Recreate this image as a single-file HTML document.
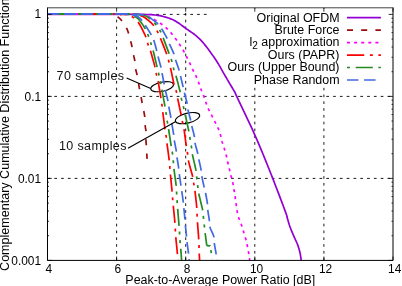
<!DOCTYPE html>
<html><head><meta charset="utf-8"><title>CCDF</title>
<style>
html,body{margin:0;padding:0;background:#fff;}
body{width:402px;height:286px;overflow:hidden;position:relative;font-family:"Liberation Sans",sans-serif;}
.t{font-family:"Liberation Sans",sans-serif;font-size:12.45px;fill:#000;}
.k{font-family:"Liberation Sans",sans-serif;font-size:11.9px;fill:#000;}
.s{font-family:"Liberation Sans",sans-serif;font-size:12.5px;letter-spacing:0.4px;fill:#111;}
</style></head><body>
<svg width="402" height="286" viewBox="0 0 402 286" style="position:absolute;left:0;top:0;will-change:transform">
<rect x="0" y="0" width="402" height="286" fill="#fff"/>
<path d="M116.60,260.4 L116.60,7.8" stroke="#000" stroke-width="0.9" stroke-dasharray="2.7 4.1" fill="none"/>
<path d="M185.70,260.4 L185.70,7.8" stroke="#000" stroke-width="0.9" stroke-dasharray="2.7 4.1" fill="none"/>
<path d="M254.80,260.4 L254.80,7.8" stroke="#000" stroke-width="0.9" stroke-dasharray="2.7 4.1" fill="none"/>
<path d="M323.90,260.4 L323.90,7.8" stroke="#000" stroke-width="0.9" stroke-dasharray="2.7 4.1" fill="none"/>
<path d="M47.5,14.40 L393.0,14.40" stroke="#000" stroke-width="0.9" stroke-dasharray="2.7 4.1" fill="none"/>
<path d="M47.5,96.40 L393.0,96.40" stroke="#000" stroke-width="0.9" stroke-dasharray="2.7 4.1" fill="none"/>
<path d="M47.5,178.40 L393.0,178.40" stroke="#000" stroke-width="0.9" stroke-dasharray="2.7 4.1" fill="none"/>
<rect x="207" y="9" width="183.5" height="78.5" fill="#fff"/>

<ellipse cx="162.1" cy="86.7" rx="11.6" ry="4.6" transform="rotate(-12 162.1 86.7)" fill="none" stroke="#000" stroke-width="1.1"/>
<ellipse cx="187.5" cy="118.1" rx="12.5" ry="4.9" transform="rotate(-14 187.5 118.1)" fill="none" stroke="#000" stroke-width="1.1"/>

<path d="M47.5,15.5 L127.6,15.5" stroke="#f3c6ea" stroke-width="1" fill="none" stroke-dasharray="none" stroke-dashoffset="0" stroke-linejoin="round" shape-rendering="crispEdges"/>
<path d="M128.00,14.30 L128.73,14.30 L129.70,14.29 L130.88,14.29 L132.19,14.29 L133.58,14.29 L135.00,14.30 L136.46,14.31 L138.01,14.33 L139.65,14.35 L141.36,14.38 L143.15,14.43 L145.00,14.50 L146.95,14.57 L149.01,14.63 L151.14,14.71 L153.30,14.83 L155.47,15.02 L157.60,15.30 L159.76,15.70 L161.99,16.19 L164.22,16.76 L166.38,17.36 L168.40,17.99 L170.20,18.60 L171.74,19.20 L173.07,19.80 L174.26,20.41 L175.38,21.06 L176.50,21.75 L177.70,22.50 L178.94,23.31 L180.15,24.16 L181.36,25.06 L182.61,26.00 L183.91,26.98 L185.30,28.00 L186.83,29.08 L188.50,30.24 L190.23,31.43 L191.94,32.63 L193.56,33.80 L195.00,34.90 L196.25,35.91 L197.35,36.85 L198.36,37.76 L199.33,38.67 L200.29,39.64 L201.30,40.70 L202.35,41.85 L203.40,43.06 L204.45,44.31 L205.50,45.61 L206.55,46.94 L207.60,48.30 L208.66,49.70 L209.73,51.16 L210.80,52.64 L211.86,54.14 L212.90,55.64 L213.90,57.10 L214.89,58.57 L215.88,60.06 L216.84,61.54 L217.77,62.98 L218.63,64.34 L219.40,65.60 L220.03,66.67 L220.52,67.55 L220.95,68.36 L221.39,69.20 L221.91,70.18 L222.60,71.40 L223.47,72.91 L224.47,74.63 L225.56,76.49 L226.69,78.42 L227.81,80.35 L228.90,82.20 L230.01,84.07 L231.18,86.05 L232.36,88.02 L233.46,89.89 L234.43,91.55 L235.20,92.90 L235.52,93.46 L235.40,93.22 L235.14,92.78 L235.06,92.72 L235.44,93.66 L236.60,96.20 L238.72,100.67 L241.59,106.65 L244.93,113.63 L248.46,121.08 L251.91,128.48 L255.00,135.30 L257.75,141.60 L260.39,147.81 L262.94,153.96 L265.44,160.10 L267.91,166.27 L270.40,172.50 L273.02,179.15 L275.78,186.27 L278.52,193.41 L281.07,200.14 L283.29,206.02 L285.00,210.60 L286.09,213.60 L286.67,215.32 L286.91,216.18 L286.98,216.63 L287.05,217.09 L287.30,218.00 L287.68,219.28 L288.03,220.55 L288.39,221.84 L288.78,223.17 L289.21,224.55 L289.70,226.00 L290.27,227.55 L290.91,229.19 L291.60,230.89 L292.31,232.60 L293.01,234.28 L293.70,235.90 L294.39,237.46 L295.10,239.01 L295.81,240.53 L296.49,242.01 L297.13,243.47 L297.70,244.90 L298.19,246.29 L298.63,247.63 L299.02,248.95 L299.38,250.24 L299.70,251.53 L300.00,252.80 L300.28,254.15 L300.53,255.58 L300.74,256.99 L300.93,258.30 L301.08,259.40 L301.20,260.20" stroke="#9400d3" stroke-width="1.7" fill="none" stroke-dasharray="none" stroke-dashoffset="0" stroke-linejoin="round"/>
<path d="M112.00,14.30 L112.08,14.29 L112.17,14.28 L112.28,14.27 L112.44,14.26 L112.68,14.27 L113.00,14.30 L113.47,14.34 L114.07,14.38 L114.74,14.44 L115.42,14.52 L116.03,14.64 L116.50,14.80 L116.79,15.00 L116.94,15.23 L117.03,15.50 L117.12,15.81 L117.29,16.18 L117.60,16.60 L118.07,17.07 L118.63,17.56 L119.27,18.11 L119.96,18.74 L120.68,19.46 L121.40,20.30 L122.17,21.32 L123.03,22.52 L123.91,23.81 L124.76,25.13 L125.54,26.38 L126.20,27.50 L126.70,28.43 L127.09,29.22 L127.40,29.96 L127.68,30.71 L127.96,31.57 L128.30,32.60 L128.70,33.88 L129.12,35.37 L129.56,36.96 L129.98,38.54 L130.37,40.02 L130.70,41.30 L130.96,42.30 L131.17,43.10 L131.34,43.79 L131.51,44.49 L131.68,45.29 L131.90,46.30 L132.16,47.58 L132.45,49.07 L132.75,50.66 L133.05,52.26 L133.34,53.77 L133.60,55.10 L133.83,56.20 L134.05,57.13 L134.25,57.98 L134.44,58.81 L134.62,59.73 L134.80,60.80 L134.96,62.08 L135.11,63.51 L135.24,65.02 L135.38,66.52 L135.53,67.94 L135.70,69.20 L135.89,70.24 L136.09,71.10 L136.31,71.88 L136.53,72.67 L136.76,73.54 L137.00,74.60 L137.26,75.90 L137.54,77.39 L137.83,78.97 L138.11,80.54 L138.38,82.02 L138.60,83.30 L138.77,84.32 L138.89,85.13 L138.99,85.84 L139.10,86.56 L139.22,87.38 L139.40,88.40 L139.64,89.70 L139.93,91.20 L140.24,92.81 L140.56,94.41 L140.85,95.91 L141.10,97.20 L141.28,98.19 L141.41,98.94 L141.53,99.59 L141.64,100.26 L141.79,101.09 L142.00,102.20 L142.30,103.71 L142.66,105.52 L143.06,107.49 L143.46,109.47 L143.82,111.29 L144.10,112.80 L144.30,113.93 L144.44,114.77 L144.55,115.46 L144.63,116.13 L144.71,116.90 L144.80,117.90 L144.89,119.20 L144.97,120.70 L145.04,122.31 L145.12,123.91 L145.20,125.41 L145.30,126.70 L145.43,127.73 L145.58,128.57 L145.74,129.31 L145.90,130.02 L146.02,130.79 L146.10,131.70 L146.12,132.77 L146.09,133.94 L146.03,135.17 L145.96,136.41 L145.91,137.64 L145.90,138.80 L145.93,139.88 L145.99,140.91 L146.06,141.93 L146.14,142.94 L146.23,143.99 L146.30,145.10 L146.37,146.29 L146.43,147.56 L146.50,148.85 L146.57,150.14 L146.63,151.41 L146.70,152.60 L146.77,153.79 L146.85,155.02 L146.92,156.22 L147.00,157.31 L147.06,158.23 L147.10,158.90" stroke="#9a0c0c" stroke-width="1.7" fill="none" stroke-dasharray="6 8.2" stroke-dashoffset="7.36" stroke-linejoin="round"/>
<path d="M134.00,14.30 L134.63,14.27 L135.48,14.22 L136.50,14.16 L137.63,14.14 L138.81,14.17 L140.00,14.30 L141.24,14.53 L142.58,14.84 L143.97,15.21 L145.38,15.62 L146.74,16.06 L148.00,16.50 L149.17,16.96 L150.28,17.45 L151.34,17.97 L152.38,18.50 L153.39,19.05 L154.40,19.60 L155.39,20.15 L156.35,20.70 L157.29,21.27 L158.23,21.85 L159.16,22.46 L160.10,23.10 L161.06,23.77 L162.03,24.47 L162.99,25.20 L163.95,25.95 L164.89,26.72 L165.80,27.50 L166.68,28.30 L167.54,29.13 L168.38,29.98 L169.20,30.84 L170.01,31.71 L170.80,32.60 L171.58,33.51 L172.33,34.44 L173.07,35.38 L173.80,36.33 L174.51,37.27 L175.20,38.20 L175.87,39.10 L176.51,39.99 L177.13,40.86 L177.75,41.75 L178.37,42.66 L179.00,43.60 L179.65,44.58 L180.31,45.59 L180.97,46.62 L181.63,47.67 L182.27,48.73 L182.90,49.80 L183.51,50.88 L184.11,51.98 L184.69,53.09 L185.27,54.21 L185.84,55.31 L186.40,56.40 L186.95,57.47 L187.50,58.51 L188.04,59.56 L188.57,60.60 L189.09,61.64 L189.60,62.70 L190.10,63.78 L190.59,64.88 L191.06,65.98 L191.54,67.08 L192.01,68.15 L192.50,69.20 L192.99,70.19 L193.49,71.14 L193.99,72.06 L194.50,73.00 L195.00,73.97 L195.50,75.00 L196.01,76.12 L196.53,77.30 L197.06,78.52 L197.57,79.74 L198.05,80.95 L198.50,82.10 L198.89,83.19 L199.23,84.23 L199.55,85.24 L199.87,86.26 L200.21,87.31 L200.60,88.40 L201.06,89.55 L201.56,90.76 L202.09,91.98 L202.63,93.21 L203.14,94.42 L203.60,95.60 L204.01,96.73 L204.37,97.83 L204.72,98.92 L205.06,100.00 L205.41,101.09 L205.80,102.20 L206.22,103.34 L206.65,104.51 L207.09,105.68 L207.55,106.85 L208.02,107.99 L208.50,109.10 L208.99,110.16 L209.50,111.19 L210.02,112.19 L210.55,113.19 L211.08,114.19 L211.60,115.20 L212.12,116.23 L212.63,117.26 L213.15,118.30 L213.67,119.34 L214.18,120.37 L214.70,121.40 L215.22,122.41 L215.75,123.41 L216.28,124.40 L216.80,125.40 L217.31,126.43 L217.80,127.50 L218.27,128.62 L218.74,129.77 L219.19,130.95 L219.63,132.14 L220.03,133.33 L220.40,134.50 L220.72,135.66 L220.99,136.81 L221.22,137.96 L221.46,139.10 L221.71,140.25 L222.00,141.40 L222.33,142.55 L222.70,143.70 L223.07,144.85 L223.46,146.00 L223.84,147.15 L224.20,148.30 L224.55,149.45 L224.90,150.60 L225.24,151.74 L225.58,152.89 L225.90,154.04 L226.20,155.20 L226.48,156.37 L226.74,157.56 L226.98,158.75 L227.22,159.93 L227.46,161.08 L227.70,162.20 L227.95,163.26 L228.20,164.27 L228.44,165.26 L228.69,166.24 L228.94,167.25 L229.20,168.30 L229.46,169.40 L229.71,170.54 L229.97,171.69 L230.24,172.86 L230.51,174.03 L230.80,175.20 L231.11,176.36 L231.44,177.53 L231.78,178.70 L232.11,179.87 L232.42,181.04 L232.70,182.20 L232.94,183.36 L233.16,184.51 L233.35,185.66 L233.53,186.80 L233.71,187.95 L233.90,189.10 L234.09,190.24 L234.27,191.37 L234.46,192.50 L234.64,193.64 L234.82,194.80 L235.00,196.00 L235.19,197.25 L235.37,198.54 L235.56,199.85 L235.75,201.16 L235.93,202.45 L236.10,203.70 L236.25,204.89 L236.39,206.05 L236.51,207.19 L236.65,208.31 L236.81,209.45 L237.00,210.60 L237.22,211.77 L237.47,212.94 L237.73,214.12 L238.02,215.31 L238.34,216.50 L238.70,217.70 L239.11,218.90 L239.57,220.10 L240.06,221.30 L240.56,222.51 L241.04,223.75 L241.50,225.00 L241.92,226.28 L242.33,227.59 L242.73,228.91 L243.11,230.24 L243.50,231.57 L243.90,232.90 L244.31,234.23 L244.73,235.56 L245.15,236.90 L245.56,238.24 L245.95,239.57 L246.30,240.90 L246.62,242.22 L246.90,243.54 L247.16,244.85 L247.41,246.16 L247.65,247.48 L247.90,248.80 L248.16,250.18 L248.42,251.63 L248.68,253.08 L248.92,254.47 L249.13,255.73 L249.30,256.80 L249.42,257.67 L249.49,258.40 L249.54,259.00 L249.56,259.49 L249.58,259.88 L249.60,260.20" stroke="#ff00ff" stroke-width="1.7" fill="none" stroke-dasharray="3 4.1" stroke-dashoffset="0.37" stroke-linejoin="round"/>
<path d="M120.00,14.30 L120.44,14.29 L121.04,14.27 L121.75,14.26 L122.52,14.25 L123.29,14.26 L124.00,14.30 L124.67,14.37 L125.33,14.45 L125.99,14.55 L126.66,14.67 L127.33,14.82 L128.00,15.00 L128.65,15.16 L129.28,15.31 L129.91,15.47 L130.57,15.71 L131.29,16.07 L132.10,16.60 L133.01,17.23 L133.99,17.93 L135.04,18.74 L136.13,19.74 L137.26,20.97 L138.40,22.50 L139.64,24.50 L141.01,26.96 L142.41,29.66 L143.76,32.37 L144.95,34.89 L145.90,37.00 L146.56,38.65 L146.98,40.01 L147.26,41.18 L147.46,42.23 L147.68,43.28 L148.00,44.40 L148.38,45.48 L148.76,46.41 L149.16,47.32 L149.58,48.36 L150.06,49.64 L150.60,51.30 L151.26,53.52 L152.04,56.23 L152.87,59.18 L153.69,62.14 L154.42,64.86 L155.00,67.10 L155.40,68.81 L155.68,70.16 L155.87,71.28 L156.03,72.27 L156.19,73.24 L156.40,74.30 L156.64,75.30 L156.87,76.13 L157.11,76.94 L157.36,77.88 L157.66,79.12 L158.00,80.80 L158.43,83.14 L158.94,86.04 L159.48,89.24 L160.02,92.46 L160.51,95.40 L160.90,97.80 L161.19,99.59 L161.41,100.99 L161.58,102.13 L161.72,103.12 L161.85,104.10 L162.00,105.20 L162.14,106.29 L162.24,107.24 L162.34,108.18 L162.46,109.24 L162.60,110.53 L162.80,112.20 L163.07,114.40 L163.40,117.07 L163.77,119.98 L164.14,122.91 L164.49,125.62 L164.80,127.90 L165.06,129.70 L165.30,131.18 L165.52,132.46 L165.72,133.62 L165.91,134.77 L166.10,136.00 L166.26,137.20 L166.39,138.27 L166.50,139.33 L166.63,140.49 L166.79,141.87 L167.00,143.60 L167.30,145.84 L167.66,148.53 L168.06,151.45 L168.46,154.37 L168.82,157.06 L169.10,159.30 L169.30,161.04 L169.44,162.44 L169.54,163.62 L169.63,164.68 L169.71,165.74 L169.80,166.90 L169.89,168.04 L169.97,169.05 L170.04,170.05 L170.13,171.17 L170.24,172.55 L170.40,174.30 L170.62,176.62 L170.90,179.43 L171.20,182.49 L171.50,185.56 L171.78,188.38 L172.00,190.70 L172.16,192.47 L172.27,193.89 L172.36,195.05 L172.44,196.08 L172.51,197.09 L172.60,198.20 L172.69,199.26 L172.76,200.16 L172.84,201.04 L172.93,202.05 L173.04,203.32 L173.20,205.00 L173.42,207.28 L173.70,210.07 L174.01,213.14 L174.31,216.21 L174.59,219.05 L174.80,221.40 L174.95,223.21 L175.05,224.67 L175.13,225.89 L175.18,226.98 L175.24,228.05 L175.30,229.20 L175.36,230.30 L175.40,231.24 L175.43,232.16 L175.48,233.20 L175.57,234.50 L175.70,236.20 L175.91,238.49 L176.18,241.30 L176.49,244.36 L176.80,247.44 L177.08,250.27 L177.30,252.60 L177.46,254.46 L177.60,256.07 L177.70,257.43 L177.78,258.56 L177.85,259.48 L177.90,260.20" stroke="#ff0000" stroke-width="1.7" fill="none" stroke-dasharray="17.2 5.7 2.9 5.6" stroke-dashoffset="10.76" stroke-linejoin="round"/>
<path d="M120.00,14.30 L121.50,14.29 L123.63,14.27 L126.12,14.24 L128.70,14.23 L131.09,14.25 L133.00,14.30 L134.41,14.38 L135.52,14.47 L136.44,14.59 L137.26,14.74 L138.08,14.94 L139.00,15.20 L139.97,15.48 L140.90,15.76 L141.84,16.09 L142.81,16.51 L143.85,17.06 L145.00,17.80 L146.34,18.78 L147.84,19.97 L149.43,21.30 L150.98,22.69 L152.40,24.05 L153.60,25.30 L154.54,26.45 L155.31,27.55 L155.94,28.63 L156.50,29.70 L157.04,30.79 L157.60,31.90 L158.14,32.95 L158.60,33.91 L159.03,34.88 L159.49,35.96 L160.03,37.27 L160.70,38.90 L161.56,41.02 L162.60,43.59 L163.71,46.37 L164.80,49.16 L165.80,51.74 L166.60,53.90 L167.19,55.59 L167.62,56.98 L167.96,58.16 L168.23,59.22 L168.50,60.27 L168.80,61.40 L169.10,62.48 L169.37,63.40 L169.62,64.30 L169.89,65.33 L170.21,66.61 L170.60,68.30 L171.10,70.58 L171.69,73.39 L172.32,76.45 L172.97,79.51 L173.57,82.32 L174.10,84.60 L174.55,86.29 L174.96,87.57 L175.33,88.59 L175.67,89.50 L175.99,90.42 L176.30,91.50 L176.57,92.63 L176.78,93.66 L176.98,94.72 L177.19,95.90 L177.45,97.33 L177.80,99.10 L178.28,101.41 L178.87,104.20 L179.51,107.24 L180.15,110.26 L180.73,113.03 L181.20,115.30 L181.54,117.00 L181.78,118.32 L181.97,119.38 L182.13,120.31 L182.30,121.25 L182.50,122.30 L182.73,123.35 L182.96,124.26 L183.19,125.17 L183.44,126.21 L183.71,127.51 L184.00,129.20 L184.34,131.46 L184.71,134.23 L185.11,137.26 L185.51,140.29 L185.88,143.09 L186.20,145.40 L186.47,147.16 L186.71,148.57 L186.93,149.74 L187.13,150.79 L187.32,151.83 L187.50,153.00 L187.63,154.17 L187.70,155.21 L187.76,156.26 L187.86,157.43 L188.06,158.84 L188.40,160.60 L188.96,162.91 L189.70,165.71 L190.54,168.74 L191.38,171.77 L192.13,174.54 L192.70,176.80 L193.07,178.48 L193.30,179.76 L193.44,180.79 L193.54,181.69 L193.65,182.62 L193.80,183.70 L193.99,184.83 L194.17,185.89 L194.36,186.96 L194.56,188.15 L194.77,189.56 L195.00,191.30 L195.27,193.53 L195.58,196.19 L195.90,199.08 L196.21,201.97 L196.49,204.65 L196.70,206.90 L196.84,208.68 L196.93,210.15 L196.98,211.41 L197.01,212.55 L197.05,213.68 L197.10,214.90 L197.16,216.08 L197.20,217.11 L197.25,218.13 L197.31,219.27 L197.39,220.65 L197.50,222.40 L197.66,224.72 L197.87,227.53 L198.11,230.59 L198.34,233.64 L198.54,236.43 L198.70,238.70 L198.80,240.39 L198.87,241.67 L198.91,242.69 L198.94,243.60 L198.97,244.52 L199.00,245.60 L199.04,246.83 L199.07,248.10 L199.09,249.39 L199.12,250.69 L199.16,251.96 L199.20,253.20 L199.26,254.48 L199.33,255.84 L199.41,257.18 L199.49,258.41 L199.55,259.45 L199.60,260.20" stroke="#ff0000" stroke-width="1.7" fill="none" stroke-dasharray="17.2 5.7 2.9 5.6" stroke-dashoffset="11.02" stroke-linejoin="round"/>
<path d="M120.00,14.30 L120.66,14.29 L121.59,14.27 L122.69,14.26 L123.85,14.25 L124.99,14.26 L126.00,14.30 L126.87,14.34 L127.67,14.37 L128.44,14.42 L129.22,14.52 L130.06,14.70 L131.00,15.00 L132.05,15.37 L133.17,15.77 L134.36,16.26 L135.57,16.88 L136.79,17.68 L138.00,18.70 L139.25,20.04 L140.56,21.69 L141.89,23.51 L143.16,25.39 L144.32,27.19 L145.30,28.80 L146.08,30.19 L146.69,31.47 L147.19,32.68 L147.62,33.85 L148.04,35.05 L148.50,36.30 L148.99,37.63 L149.46,39.00 L149.92,40.39 L150.36,41.77 L150.79,43.11 L151.20,44.40 L151.57,45.52 L151.88,46.46 L152.18,47.37 L152.50,48.39 L152.86,49.65 L153.30,51.30 L153.86,53.52 L154.52,56.23 L155.23,59.18 L155.93,62.14 L156.57,64.86 L157.10,67.10 L157.50,68.78 L157.82,70.08 L158.07,71.14 L158.30,72.10 L158.54,73.11 L158.80,74.30 L159.10,75.69 L159.40,77.15 L159.71,78.66 L160.02,80.18 L160.32,81.67 L160.60,83.10 L160.85,84.37 L161.07,85.48 L161.28,86.57 L161.51,87.75 L161.77,89.15 L162.10,90.90 L162.52,93.16 L163.03,95.88 L163.57,98.81 L164.11,101.73 L164.60,104.41 L165.00,106.60 L165.29,108.23 L165.50,109.47 L165.66,110.47 L165.79,111.36 L165.93,112.29 L166.10,113.40 L166.29,114.69 L166.49,116.05 L166.69,117.45 L166.89,118.86 L167.09,120.25 L167.30,121.60 L167.50,122.80 L167.68,123.86 L167.87,124.90 L168.07,126.05 L168.31,127.44 L168.60,129.20 L168.96,131.50 L169.39,134.28 L169.85,137.30 L170.31,140.32 L170.74,143.10 L171.10,145.40 L171.39,147.16 L171.64,148.55 L171.85,149.70 L172.04,150.74 L172.22,151.80 L172.40,153.00 L172.58,154.34 L172.74,155.72 L172.89,157.11 L173.04,158.50 L173.17,159.87 L173.30,161.20 L173.40,162.38 L173.46,163.39 L173.52,164.39 L173.59,165.50 L173.71,166.86 L173.90,168.60 L174.19,170.91 L174.58,173.73 L175.01,176.79 L175.43,179.85 L175.81,182.67 L176.10,185.00 L176.28,186.77 L176.39,188.17 L176.46,189.32 L176.50,190.36 L176.54,191.41 L176.60,192.60 L176.68,193.93 L176.77,195.29 L176.85,196.66 L176.93,198.03 L177.02,199.38 L177.10,200.70 L177.17,201.89 L177.24,202.94 L177.30,203.97 L177.37,205.11 L177.47,206.48 L177.60,208.20 L177.78,210.43 L178.00,213.10 L178.24,216.01 L178.49,218.92 L178.71,221.62 L178.90,223.90 L179.04,225.70 L179.16,227.20 L179.26,228.49 L179.34,229.67 L179.42,230.84 L179.50,232.10 L179.57,233.43 L179.63,234.74 L179.69,236.05 L179.74,237.36 L179.81,238.67 L179.90,240.00 L180.01,241.31 L180.13,242.57 L180.27,243.84 L180.41,245.17 L180.56,246.61 L180.70,248.20 L180.85,250.12 L181.03,252.36 L181.20,254.71 L181.36,256.95 L181.50,258.85 L181.60,260.20" stroke="#228b22" stroke-width="1.7" fill="none" stroke-dasharray="17.1 5.6 3 5.7 3 5.7" stroke-dashoffset="25.49" stroke-linejoin="round"/>
<path d="M120.00,14.30 L121.74,14.29 L124.22,14.27 L127.12,14.26 L130.11,14.25 L132.85,14.26 L135.00,14.30 L136.52,14.36 L137.65,14.44 L138.53,14.53 L139.30,14.65 L140.08,14.81 L141.00,15.00 L142.03,15.18 L143.04,15.31 L144.08,15.49 L145.14,15.76 L146.28,16.21 L147.50,16.90 L148.88,17.91 L150.43,19.19 L152.03,20.64 L153.61,22.16 L155.06,23.65 L156.30,25.00 L157.31,26.23 L158.16,27.41 L158.89,28.56 L159.53,29.69 L160.12,30.80 L160.70,31.90 L161.20,32.87 L161.57,33.69 L161.90,34.49 L162.25,35.41 L162.69,36.60 L163.30,38.20 L164.14,40.39 L165.17,43.11 L166.30,46.09 L167.43,49.08 L168.46,51.84 L169.30,54.10 L169.94,55.81 L170.44,57.15 L170.86,58.25 L171.21,59.24 L171.55,60.25 L171.90,61.40 L172.25,62.68 L172.56,64.00 L172.86,65.33 L173.15,66.66 L173.46,67.99 L173.80,69.30 L174.17,70.51 L174.54,71.60 L174.93,72.69 L175.34,73.89 L175.80,75.28 L176.30,77.00 L176.90,79.18 L177.59,81.79 L178.31,84.59 L179.03,87.40 L179.67,90.01 L180.20,92.20 L180.58,93.93 L180.86,95.34 L181.07,96.55 L181.25,97.66 L181.45,98.77 L181.70,100.00 L182.01,101.34 L182.35,102.70 L182.70,104.07 L183.05,105.42 L183.39,106.74 L183.70,108.00 L183.95,109.08 L184.16,109.97 L184.35,110.83 L184.56,111.80 L184.83,113.04 L185.20,114.70 L185.71,116.98 L186.33,119.79 L187.02,122.87 L187.70,125.96 L188.31,128.79 L188.80,131.10 L189.14,132.81 L189.37,134.11 L189.53,135.16 L189.67,136.11 L189.81,137.10 L190.00,138.30 L190.24,139.71 L190.50,141.22 L190.76,142.78 L191.03,144.34 L191.28,145.86 L191.50,147.30 L191.67,148.56 L191.78,149.66 L191.88,150.72 L192.01,151.86 L192.20,153.22 L192.50,154.90 L192.96,157.06 L193.55,159.64 L194.21,162.42 L194.86,165.21 L195.45,167.80 L195.90,170.00 L196.19,171.75 L196.38,173.20 L196.50,174.46 L196.59,175.63 L196.67,176.81 L196.80,178.10 L196.96,179.51 L197.13,180.95 L197.29,182.41 L197.46,183.85 L197.63,185.25 L197.80,186.60 L197.94,187.78 L198.03,188.79 L198.13,189.76 L198.27,190.83 L198.48,192.13 L198.80,193.80 L199.29,196.01 L199.94,198.67 L200.66,201.58 L201.37,204.48 L202.01,207.17 L202.50,209.40 L202.81,211.12 L203.01,212.48 L203.12,213.62 L203.20,214.67 L203.28,215.76 L203.40,217.00 L203.55,218.42 L203.70,219.91 L203.86,221.44 L204.01,222.96 L204.16,224.43 L204.30,225.80 L204.43,226.99 L204.54,228.02 L204.65,228.99 L204.77,230.03 L204.92,231.22 L205.10,232.70 L205.35,234.65 L205.66,237.03 L206.00,239.58 L206.33,242.03 L206.60,244.13 L206.80,245.60" stroke="#228b22" stroke-width="1.7" fill="none" stroke-dasharray="17.1 5.6 3 5.7 3 5.7" stroke-dashoffset="25.77" stroke-linejoin="round"/>
<path d="M206.80,245.60 L210.00,245.90 L211.30,252.60 L212.40,259.00" stroke="#228b22" stroke-width="1.7" fill="none" stroke-dasharray="3.4 4.2 3 5.7 3 50" stroke-dashoffset="0" stroke-linejoin="round"/>
<path d="M47.5,14.0 L127.6,14.0" stroke="#4169e1" stroke-width="2" fill="none" stroke-dasharray="none" stroke-dashoffset="0" stroke-linejoin="round" shape-rendering="crispEdges"/>
<path d="M58.9,14.0 L63.9,14.0" stroke="#228b22" stroke-width="2" fill="none" stroke-dasharray="none" stroke-dashoffset="0" stroke-linejoin="round" shape-rendering="crispEdges"/>
<path d="M75.6,14.0 L77.9,14.0" stroke="#ff00ff" stroke-width="2" fill="none" stroke-dasharray="none" stroke-dashoffset="0" stroke-linejoin="round" shape-rendering="crispEdges"/>
<path d="M78.4,14.0 L81.1,14.0" stroke="#228b22" stroke-width="2" fill="none" stroke-dasharray="none" stroke-dashoffset="0" stroke-linejoin="round" shape-rendering="crispEdges"/>
<path d="M93.0,14.0 L95.6,14.0" stroke="#ff0000" stroke-width="2" fill="none" stroke-dasharray="none" stroke-dashoffset="0" stroke-linejoin="round" shape-rendering="crispEdges"/>
<path d="M96.0,14.0 L98.4,14.0" stroke="#228b22" stroke-width="2" fill="none" stroke-dasharray="none" stroke-dashoffset="0" stroke-linejoin="round" shape-rendering="crispEdges"/>
<path d="M109.8,14.0 L112.4,14.0" stroke="#228b22" stroke-width="2" fill="none" stroke-dasharray="none" stroke-dashoffset="0" stroke-linejoin="round" shape-rendering="crispEdges"/>
<path d="M112.8,14.0 L115.4,14.0" stroke="#ff0000" stroke-width="2" fill="none" stroke-dasharray="none" stroke-dashoffset="0" stroke-linejoin="round" shape-rendering="crispEdges"/>
<path d="M127.8,14.0 L130.0,14.0" stroke="#228b22" stroke-width="2" fill="none" stroke-dasharray="none" stroke-dashoffset="0" stroke-linejoin="round" shape-rendering="crispEdges"/>
<path d="M127.60,14.30 L127.47,14.29 L127.24,14.28 L126.99,14.26 L126.81,14.26 L126.78,14.27 L127.00,14.30 L127.51,14.36 L128.25,14.43 L129.14,14.52 L130.12,14.63 L131.10,14.75 L132.00,14.90 L132.85,15.05 L133.72,15.19 L134.59,15.35 L135.45,15.56 L136.29,15.83 L137.10,16.20 L137.87,16.66 L138.62,17.19 L139.34,17.79 L140.06,18.46 L140.77,19.19 L141.50,20.00 L142.23,20.88 L142.94,21.85 L143.66,22.88 L144.38,23.97 L145.13,25.12 L145.90,26.30 L146.74,27.57 L147.64,28.96 L148.56,30.39 L149.45,31.82 L150.28,33.17 L151.00,34.40 L151.59,35.42 L152.07,36.26 L152.48,37.04 L152.87,37.85 L153.26,38.80 L153.70,40.00 L154.20,41.55 L154.74,43.37 L155.29,45.34 L155.81,47.31 L156.29,49.15 L156.70,50.70 L157.00,51.88 L157.20,52.79 L157.36,53.55 L157.51,54.31 L157.71,55.22 L158.00,56.40 L158.41,57.95 L158.91,59.76 L159.46,61.72 L160.00,63.68 L160.50,65.52 L160.90,67.10 L161.19,68.35 L161.40,69.36 L161.56,70.24 L161.71,71.12 L161.88,72.10 L162.10,73.30 L162.38,74.77 L162.70,76.44 L163.03,78.21 L163.37,80.00 L163.70,81.73 L164.00,83.30 L164.26,84.68 L164.50,85.94 L164.72,87.14 L164.96,88.32 L165.21,89.56 L165.50,90.90 L165.85,92.39 L166.25,94.00 L166.67,95.65 L167.09,97.29 L167.48,98.86 L167.80,100.30 L168.04,101.55 L168.23,102.66 L168.38,103.69 L168.53,104.73 L168.69,105.84 L168.90,107.10 L169.17,108.56 L169.47,110.16 L169.80,111.84 L170.13,113.53 L170.43,115.14 L170.70,116.60 L170.92,117.86 L171.09,118.95 L171.25,119.97 L171.41,121.01 L171.58,122.16 L171.80,123.50 L172.07,125.12 L172.39,126.95 L172.73,128.89 L173.06,130.83 L173.36,132.63 L173.60,134.20 L173.77,135.45 L173.87,136.46 L173.94,137.34 L174.02,138.21 L174.13,139.19 L174.30,140.40 L174.56,141.89 L174.89,143.60 L175.24,145.41 L175.60,147.23 L175.93,148.96 L176.20,150.50 L176.39,151.80 L176.52,152.92 L176.62,153.95 L176.71,154.98 L176.83,156.10 L177.00,157.40 L177.23,158.94 L177.51,160.67 L177.81,162.49 L178.11,164.30 L178.38,166.01 L178.60,167.50 L178.75,168.71 L178.84,169.69 L178.90,170.56 L178.96,171.44 L179.05,172.45 L179.20,173.70 L179.42,175.27 L179.69,177.10 L179.98,179.04 L180.28,180.99 L180.56,182.82 L180.80,184.40 L180.98,185.65 L181.13,186.66 L181.26,187.55 L181.38,188.44 L181.52,189.45 L181.70,190.70 L181.93,192.28 L182.19,194.11 L182.47,196.06 L182.74,198.00 L183.00,199.83 L183.20,201.40 L183.35,202.63 L183.45,203.61 L183.52,204.46 L183.60,205.32 L183.68,206.32 L183.80,207.60 L183.96,209.25 L184.16,211.20 L184.36,213.28 L184.57,215.36 L184.75,217.28 L184.90,218.90 L185.00,220.12 L185.06,221.03 L185.10,221.79 L185.14,222.54 L185.20,223.43 L185.30,224.60 L185.45,226.14 L185.63,227.95 L185.84,229.89 L186.04,231.85 L186.24,233.70 L186.40,235.30 L186.52,236.60 L186.61,237.68 L186.69,238.64 L186.77,239.60 L186.87,240.65 L187.00,241.90 L187.18,243.41 L187.41,245.12 L187.65,246.92 L187.89,248.71 L188.12,250.41 L188.30,251.90 L188.45,253.21 L188.57,254.43 L188.67,255.55 L188.76,256.56 L188.83,257.44 L188.90,258.20 L188.96,258.81 L189.00,259.26 L189.04,259.59 L189.06,259.84 L189.08,260.03 L189.10,260.20" stroke="#4169e1" stroke-width="1.7" fill="none" stroke-dasharray="11.5 5.6" stroke-dashoffset="10.58" stroke-linejoin="round"/>
<path d="M127.60,14.30 L128.67,14.29 L130.20,14.28 L131.99,14.26 L133.84,14.26 L135.58,14.27 L137.00,14.30 L138.09,14.36 L139.01,14.43 L139.80,14.52 L140.53,14.63 L141.24,14.75 L142.00,14.90 L142.80,15.07 L143.61,15.27 L144.40,15.49 L145.17,15.72 L145.91,15.96 L146.60,16.20 L147.22,16.43 L147.76,16.63 L148.27,16.85 L148.79,17.10 L149.35,17.41 L150.00,17.80 L150.77,18.31 L151.64,18.93 L152.55,19.61 L153.45,20.30 L154.29,20.95 L155.00,21.50 L155.55,21.91 L155.98,22.21 L156.34,22.48 L156.69,22.76 L157.09,23.15 L157.60,23.70 L158.22,24.41 L158.91,25.23 L159.65,26.14 L160.42,27.14 L161.21,28.23 L162.00,29.40 L162.83,30.72 L163.72,32.22 L164.62,33.81 L165.50,35.39 L166.31,36.88 L167.00,38.20 L167.53,39.27 L167.91,40.14 L168.23,40.92 L168.54,41.72 L168.91,42.64 L169.40,43.80 L170.06,45.27 L170.84,46.97 L171.69,48.81 L172.52,50.65 L173.28,52.38 L173.90,53.90 L174.34,55.13 L174.64,56.14 L174.87,57.06 L175.08,57.97 L175.34,58.98 L175.70,60.20 L176.20,61.70 L176.79,63.40 L177.42,65.21 L178.05,67.01 L178.62,68.71 L179.10,70.20 L179.45,71.41 L179.71,72.40 L179.91,73.29 L180.10,74.19 L180.32,75.18 L180.60,76.40 L180.96,77.89 L181.36,79.60 L181.79,81.41 L182.23,83.23 L182.64,84.96 L183.00,86.50 L183.30,87.80 L183.56,88.92 L183.79,89.95 L184.03,90.98 L184.29,92.10 L184.60,93.40 L184.98,94.94 L185.43,96.67 L185.89,98.49 L186.35,100.30 L186.77,102.01 L187.10,103.50 L187.32,104.72 L187.46,105.71 L187.55,106.61 L187.64,107.50 L187.78,108.49 L188.00,109.70 L188.34,111.19 L188.76,112.89 L189.22,114.69 L189.70,116.50 L190.13,118.20 L190.50,119.70 L190.77,120.92 L190.98,121.93 L191.15,122.84 L191.32,123.76 L191.53,124.77 L191.80,126.00 L192.17,127.50 L192.61,129.21 L193.09,131.02 L193.56,132.84 L193.97,134.56 L194.30,136.10 L194.50,137.39 L194.60,138.49 L194.64,139.50 L194.69,140.51 L194.79,141.61 L195.00,142.90 L195.34,144.44 L195.78,146.16 L196.27,147.98 L196.77,149.79 L197.23,151.50 L197.60,153.00 L197.87,154.23 L198.07,155.24 L198.23,156.15 L198.38,157.06 L198.56,158.07 L198.80,159.30 L199.12,160.80 L199.51,162.51 L199.93,164.32 L200.33,166.14 L200.70,167.86 L201.00,169.40 L201.20,170.68 L201.31,171.77 L201.39,172.76 L201.47,173.77 L201.60,174.88 L201.80,176.20 L202.11,177.81 L202.49,179.64 L202.91,181.58 L203.34,183.51 L203.75,185.33 L204.10,186.90 L204.39,188.16 L204.65,189.18 L204.88,190.08 L205.11,190.97 L205.34,191.97 L205.60,193.20 L205.90,194.73 L206.23,196.47 L206.57,198.33 L206.89,200.19 L207.18,201.95 L207.40,203.50 L207.53,204.77 L207.60,205.84 L207.62,206.81 L207.64,207.78 L207.69,208.84 L207.80,210.10 L208.00,211.62 L208.26,213.34 L208.54,215.15 L208.83,216.96 L209.10,218.68 L209.30,220.20 L209.40,221.47 L209.41,222.55 L209.39,223.53 L209.41,224.51 L209.53,225.57 L209.80,226.80 L210.30,228.26 L211.00,229.89 L211.80,231.59 L212.60,233.30 L213.30,234.93 L213.80,236.40 L214.07,237.65 L214.18,238.72 L214.19,239.72 L214.17,240.72 L214.19,241.82 L214.30,243.10 L214.52,244.62 L214.80,246.33 L215.12,248.13 L215.44,249.94 L215.74,251.66 L216.00,253.20 L216.22,254.63 L216.42,256.02 L216.61,257.33 L216.77,258.50 L216.90,259.47 L217.00,260.20" stroke="#4169e1" stroke-width="1.7" fill="none" stroke-dasharray="11.5 5.6" stroke-dashoffset="12.4" stroke-linejoin="round"/>
<path d="M47.50,260.4 l0,-3.9 M47.50,7.8 l0,3.9" stroke="#000" stroke-width="0.8" fill="none"/>
<path d="M116.60,260.4 l0,-3.9 M116.60,7.8 l0,3.9" stroke="#000" stroke-width="0.8" fill="none"/>
<path d="M185.70,260.4 l0,-3.9 M185.70,7.8 l0,3.9" stroke="#000" stroke-width="0.8" fill="none"/>
<path d="M254.80,260.4 l0,-3.9 M254.80,7.8 l0,3.9" stroke="#000" stroke-width="0.8" fill="none"/>
<path d="M323.90,260.4 l0,-3.9 M323.90,7.8 l0,3.9" stroke="#000" stroke-width="0.8" fill="none"/>
<path d="M393.00,260.4 l0,-3.9 M393.00,7.8 l0,3.9" stroke="#000" stroke-width="0.8" fill="none"/>
<path d="M47.5,14.40 l4.3,0 M393.0,14.40 l-4.3,0" stroke="#000" stroke-width="0.8" fill="none"/>
<path d="M47.5,96.40 l4.3,0 M393.0,96.40 l-4.3,0" stroke="#000" stroke-width="0.8" fill="none"/>
<path d="M47.5,71.72 l1.5,0 M393.0,71.72 l-1.5,0" stroke="#000" stroke-width="0.8" fill="none"/>
<path d="M47.5,57.28 l1.5,0 M393.0,57.28 l-1.5,0" stroke="#000" stroke-width="0.8" fill="none"/>
<path d="M47.5,47.03 l1.5,0 M393.0,47.03 l-1.5,0" stroke="#000" stroke-width="0.8" fill="none"/>
<path d="M47.5,39.08 l1.5,0 M393.0,39.08 l-1.5,0" stroke="#000" stroke-width="0.8" fill="none"/>
<path d="M47.5,32.59 l1.5,0 M393.0,32.59 l-1.5,0" stroke="#000" stroke-width="0.8" fill="none"/>
<path d="M47.5,27.10 l1.5,0 M393.0,27.10 l-1.5,0" stroke="#000" stroke-width="0.8" fill="none"/>
<path d="M47.5,22.35 l1.5,0 M393.0,22.35 l-1.5,0" stroke="#000" stroke-width="0.8" fill="none"/>
<path d="M47.5,18.15 l1.5,0 M393.0,18.15 l-1.5,0" stroke="#000" stroke-width="0.8" fill="none"/>
<path d="M47.5,178.40 l4.3,0 M393.0,178.40 l-4.3,0" stroke="#000" stroke-width="0.8" fill="none"/>
<path d="M47.5,153.72 l1.5,0 M393.0,153.72 l-1.5,0" stroke="#000" stroke-width="0.8" fill="none"/>
<path d="M47.5,139.28 l1.5,0 M393.0,139.28 l-1.5,0" stroke="#000" stroke-width="0.8" fill="none"/>
<path d="M47.5,129.03 l1.5,0 M393.0,129.03 l-1.5,0" stroke="#000" stroke-width="0.8" fill="none"/>
<path d="M47.5,121.08 l1.5,0 M393.0,121.08 l-1.5,0" stroke="#000" stroke-width="0.8" fill="none"/>
<path d="M47.5,114.59 l1.5,0 M393.0,114.59 l-1.5,0" stroke="#000" stroke-width="0.8" fill="none"/>
<path d="M47.5,109.10 l1.5,0 M393.0,109.10 l-1.5,0" stroke="#000" stroke-width="0.8" fill="none"/>
<path d="M47.5,104.35 l1.5,0 M393.0,104.35 l-1.5,0" stroke="#000" stroke-width="0.8" fill="none"/>
<path d="M47.5,100.15 l1.5,0 M393.0,100.15 l-1.5,0" stroke="#000" stroke-width="0.8" fill="none"/>
<path d="M47.5,260.40 l4.3,0 M393.0,260.40 l-4.3,0" stroke="#000" stroke-width="0.8" fill="none"/>
<path d="M47.5,235.72 l1.5,0 M393.0,235.72 l-1.5,0" stroke="#000" stroke-width="0.8" fill="none"/>
<path d="M47.5,221.28 l1.5,0 M393.0,221.28 l-1.5,0" stroke="#000" stroke-width="0.8" fill="none"/>
<path d="M47.5,211.03 l1.5,0 M393.0,211.03 l-1.5,0" stroke="#000" stroke-width="0.8" fill="none"/>
<path d="M47.5,203.08 l1.5,0 M393.0,203.08 l-1.5,0" stroke="#000" stroke-width="0.8" fill="none"/>
<path d="M47.5,196.59 l1.5,0 M393.0,196.59 l-1.5,0" stroke="#000" stroke-width="0.8" fill="none"/>
<path d="M47.5,191.10 l1.5,0 M393.0,191.10 l-1.5,0" stroke="#000" stroke-width="0.8" fill="none"/>
<path d="M47.5,186.35 l1.5,0 M393.0,186.35 l-1.5,0" stroke="#000" stroke-width="0.8" fill="none"/>
<path d="M47.5,182.15 l1.5,0 M393.0,182.15 l-1.5,0" stroke="#000" stroke-width="0.8" fill="none"/>
<path d="M47.5,7.8 L47.5,260.4 L393.0,260.4 L393.0,7.8" fill="none" stroke="#000" stroke-width="1"/>
<path d="M47.0,7.8 L393.5,7.8" fill="none" stroke="#444" stroke-width="1"/>
<path d="M347,17.60 L380.9,17.60" stroke="#9400d3" stroke-width="1.7" fill="none" stroke-dasharray="none" stroke-dashoffset="0"/>
<text x="339.5" y="21.90" text-anchor="end" class="t">Original OFDM</text>
<path d="M347,30.08 L380.9,30.08" stroke="#9a0c0c" stroke-width="1.7" fill="none" stroke-dasharray="6 8.2" stroke-dashoffset="0"/>
<text x="339.5" y="34.38" text-anchor="end" class="t">Brute Force</text>
<path d="M347,42.56 L380.9,42.56" stroke="#ff00ff" stroke-width="1.7" fill="none" stroke-dasharray="3 4.1" stroke-dashoffset="0"/>
<text x="339.5" y="45.50" text-anchor="end" class="t">l<tspan dy="3" font-size="10">2</tspan><tspan dy="-3"> approximation</tspan></text>
<path d="M347,55.04 L380.9,55.04" stroke="#ff0000" stroke-width="1.7" fill="none" stroke-dasharray="17.2 5.7 2.9 5.6" stroke-dashoffset="0"/>
<text x="339.5" y="58.86" text-anchor="end" class="t">Ours (PAPR)</text>
<path d="M347,67.52 L380.9,67.52" stroke="#228b22" stroke-width="1.7" fill="none" stroke-dasharray="17.1 5.6 3 5.7 3 5.7" stroke-dashoffset="31.4"/>
<text x="339.5" y="71.28" text-anchor="end" class="t">Ours (Upper Bound)</text>
<path d="M347,80.00 L380.9,80.00" stroke="#4169e1" stroke-width="1.7" fill="none" stroke-dasharray="11.5 5.6" stroke-dashoffset="0"/>
<text x="339.5" y="83.70" text-anchor="end" class="t">Phase Random</text>

<path d="M126.6,77.9 L150.8,88.4" stroke="#000" stroke-width="1.1" fill="none"/>
<text x="56.6" y="79.9" class="s">70 samples</text>
<path d="M128,148.3 L175.8,121.6" stroke="#000" stroke-width="1.1" fill="none"/>
<text x="58.9" y="149.9" class="s">10 samples</text>

<text x="48.80" y="272.6" text-anchor="middle" class="k">4</text>
<text x="117.90" y="272.6" text-anchor="middle" class="k">6</text>
<text x="187.00" y="272.6" text-anchor="middle" class="k">8</text>
<text x="256.50" y="272.6" text-anchor="middle" class="k">10</text>
<text x="325.60" y="272.6" text-anchor="middle" class="k">12</text>
<text x="394.70" y="272.6" text-anchor="middle" class="k">14</text>
<text x="41.1" y="18.20" text-anchor="end" class="k">1</text>
<text x="41.1" y="100.70" text-anchor="end" class="k">0.1</text>
<text x="41.1" y="182.70" text-anchor="end" class="k">0.01</text>
<text x="41.1" y="264.70" text-anchor="end" class="k">0.001</text>
<text x="220.3" y="284.4" text-anchor="middle" class="t">Peak-to-Average Power Ratio [dB]</text>
<text transform="translate(9.3,134.6) rotate(-90)" text-anchor="middle" class="t" style="font-size:12.55px">Complementary Cumulative Distribution Function</text>
</svg>
</body></html>
